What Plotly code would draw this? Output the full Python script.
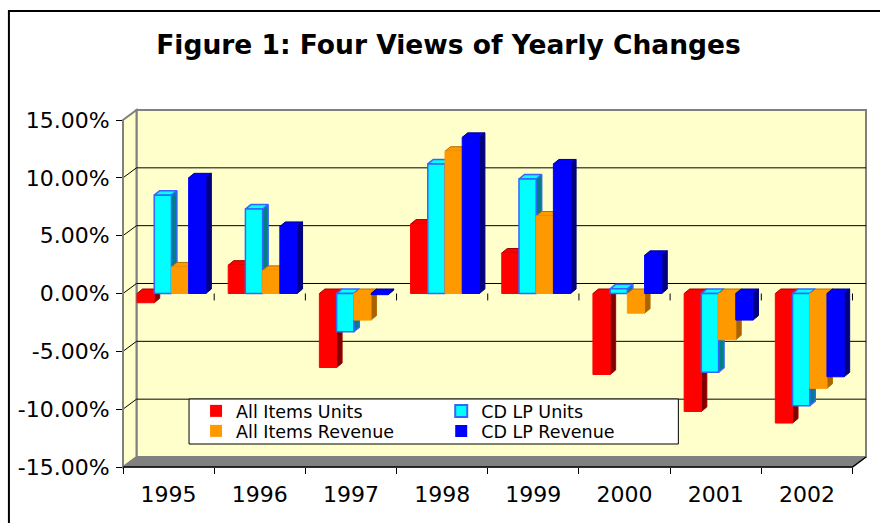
import plotly.graph_objects as go

# ---------------- data ----------------
years = ["1995", "1996", "1997", "1998", "1999", "2000", "2001", "2002"]
all_items_units = [-0.8, 2.45, -6.4, 6.0, 3.5, -7.0, -10.2, -11.2]
cd_lp_units = [8.5, 7.3, -3.3, 11.2, 9.9, 0.4, -6.8, -9.7]
all_items_revenue = [2.3, 2.0, -2.3, 12.3, 6.7, -1.7, -4.0, -8.2]
cd_lp_revenue = [10.0, 5.8, -0.1, 13.5, 11.2, 3.3, -2.3, -7.2]
series_names = ["All Items Units", "CD LP Units", "All Items Revenue", "CD LP Revenue"]
y_tick_vals = [-15, -10, -5, 0, 5, 10, 15]
y_tick_text = ["-15.00%", "-10.00%", "-5.00%", "0.00%", "5.00%", "10.00%", "15.00%"]
title_text = "Figure 1: Four Views of Yearly Changes"

series_values = [all_items_units, cd_lp_units, all_items_revenue, cd_lp_revenue]

# ---------------- geometry (pixels -> data units) ----------------
W, H = 880, 523
PX_LEFT, PX_BOTTOM = 123, 467
CAT_PX = 91.125              # pixels per category
PCT_PX = 347 / 30.0          # pixels per percent
DXW = 13.5 / CAT_PX          # wall depth, x
DYW = 10.0 / PCT_PX          # wall depth, y
XMIN, XMAX = 0.0, 8 + DXW
YMIN, YMAX = -15.0, 15 + DYW
PLOT_W = (XMAX - XMIN) * CAT_PX
PLOT_H = (YMAX - YMIN) * PCT_PX
M_L = PX_LEFT
M_B = H - PX_BOTTOM
M_R = W - PX_LEFT - PLOT_W
M_T = PX_BOTTOM - PLOT_H

BAR_W = 17.2 / CAT_PX
BAR_OFF = 14.0 / CAT_PX
DXB = 5.5 / CAT_PX
DYB = 4.5 / PCT_PX

styles = [
    dict(front="#FF0000", side="#800000", top="#FF0000", fl="#FF0000", ol="#A00000", lw=1),
    dict(front="#00FFFF", side="#008080", top="#00FFFF", fl="#3366FF", ol="#3366FF", lw=1.5),
    dict(front="#FF9900", side="#A86400", top="#FF9900", fl="#FF9900", ol="#B86E00", lw=1),
    dict(front="#0000FF", side="#000080", top="#0000FF", fl="#0000FF", ol="#000080", lw=1),
]
# legend entry placement: (text start px, row centre px)
legend_pos = [(236, 411), (481, 411), (236, 431), (481, 431)]


def px(x):
    return (x - XMIN) / (XMAX - XMIN)


def py(y):
    return (y - YMIN) / (YMAX - YMIN)


def ppx(p):  # pixel -> paper x
    return (p - M_L) / PLOT_W


def ppy(p):  # pixel -> paper y
    return (PX_BOTTOM - p) / PLOT_H


def poly_path(pts):
    return "M " + " L ".join(f"{px(a):.5f},{py(b):.5f}" for a, b in pts) + " Z"


def line_path(pts):
    return "M " + " L ".join(f"{px(a):.5f},{py(b):.5f}" for a, b in pts)


fig = go.Figure()

# ---------------- 3D bars as filled polygons ----------------
for j, vals in enumerate(series_values):
    st = styles[j]
    fx, fy, sx, sy, tx, ty = [], [], [], [], [], []
    for i, v in enumerate(vals):
        L = i + BAR_OFF + j * BAR_W
        R = L + BAR_W
        y0, y1 = min(0, v), max(0, v)
        fx += [L, R, R, L, L, None]
        fy += [y0, y0, y1, y1, y0, None]
        sx += [R, R + DXB, R + DXB, R, R, None]
        sy += [y0, y0 + DYB, y1 + DYB, y1, y0, None]
        tx += [L, R, R + DXB, L + DXB, L, None]
        ty += [y1, y1, y1 + DYB, y1 + DYB, y1, None]
    for xs, ys, col, lc in [(sx, sy, st["side"], st["ol"]),
                            (tx, ty, st["top"], st["ol"]),
                            (fx, fy, st["front"], st["fl"])]:
        fig.add_trace(go.Scatter(
            x=xs, y=ys, mode="lines", fill="toself", fillcolor=col,
            line=dict(color=lc, width=st["lw"]), hoverinfo="skip",
            showlegend=False, connectgaps=False))

# ---------------- legend entries (one legend per entry) ----------------
legend_names = ["legend", "legend2", "legend3", "legend4"]
for j, name in enumerate(series_names):
    st = styles[j]
    fig.add_trace(go.Bar(
        x=[None], y=[None], name=name,
        marker=dict(color=st["front"],
                    line=dict(color=st["fl"] if j == 1 else st["front"], width=2 if j == 1 else 0)),
        legend=legend_names[j], hoverinfo="skip"))

# ---------------- walls, floor, grid ----------------
shapes = []
gray = "#808080"
wall = "#FFFFCC"
shapes.append(dict(type="path", xref="paper", yref="paper", layer="below",
                   path=poly_path([(DXW, -15 + DYW), (XMAX, -15 + DYW), (XMAX, YMAX), (DXW, YMAX)]),
                   fillcolor=wall, line=dict(color=gray, width=2)))
shapes.append(dict(type="path", xref="paper", yref="paper", layer="below",
                   path=poly_path([(0, -15), (DXW, -15 + DYW), (DXW, YMAX), (0, 15)]),
                   fillcolor=wall, line=dict(color=gray, width=2)))
for v in [-10, -5, 0, 5, 10]:
    shapes.append(dict(type="path", xref="paper", yref="paper", layer="below",
                       path=line_path([(0, v), (DXW, v + DYW), (XMAX, v + DYW)]),
                       line=dict(color="black", width=1)))
shapes.append(dict(type="path", xref="paper", yref="paper", layer="below",
                   path=poly_path([(0, -15), (8, -15), (XMAX, -15 + DYW), (DXW, -15 + DYW)]),
                   fillcolor=gray, line=dict(color=gray, width=1)))
shapes.append(dict(type="path", xref="paper", yref="paper", layer="above",
                   path=line_path([(0, -15), (0, 15)]), line=dict(color=gray, width=2)))
shapes.append(dict(type="path", xref="paper", yref="paper", layer="above",
                   path=line_path([(0, -15), (8, -15), (XMAX, -15 + DYW)]),
                   line=dict(color="black", width=1.5)))
for k in range(1, 9):
    shapes.append(dict(type="path", xref="paper", yref="paper", layer="above",
                       path=line_path([(k, 0), (k, -0.6)]), line=dict(color="black", width=1)))
# legend box
shapes.append(dict(type="rect", xref="paper", yref="paper", layer="above",
                   x0=ppx(189), x1=ppx(678), y0=ppy(444), y1=ppy(399),
                   fillcolor="white", line=dict(color="black", width=1)))
# outer chart border
shapes.append(dict(type="rect", xref="paper", yref="paper", layer="above",
                   x0=ppx(9), x1=ppx(W + 10), y0=ppy(H + 10), y1=ppy(11),
                   fillcolor="rgba(0,0,0,0)", line=dict(color="black", width=2)))

FONT = "DejaVu Sans"
legend_layout = {}
for j, lname in enumerate(legend_names):
    tx_px, ty_px = legend_pos[j]
    legend_layout[lname] = dict(
        x=ppx(tx_px - 40), y=ppy(ty_px), xanchor="left", yanchor="middle",
        bgcolor="rgba(0,0,0,0)", borderwidth=0,
        font=dict(family=FONT, size=17.5, color="black"), tracegroupgap=0)

fig.update_layout(
    width=W, height=H,
    margin=dict(l=M_L, r=M_R, t=M_T, b=M_B, pad=0),
    paper_bgcolor="white", plot_bgcolor="white",
    shapes=shapes,
    title=dict(text=f"<b>{title_text}</b>", x=448.5 / W, xanchor="center",
               y=1 - 45 / H, yanchor="middle", yref="container",
               font=dict(family=FONT, size=26.5, color="black")),
    xaxis=dict(type="linear", range=[XMIN, XMAX], tickmode="array",
               tickvals=[i + 0.5 for i in range(len(years))], ticktext=years,
               ticks="outside", ticklen=8, tickcolor="rgba(0,0,0,0)",
               showgrid=False, zeroline=False, showline=False, fixedrange=True,
               tickfont=dict(family=FONT, size=22, color="black"),
               minor=dict(tickmode="array", tickvals=list(range(9)), ticks="outside",
                          ticklen=6, tickcolor="black", tickwidth=1, showgrid=False)),
    yaxis=dict(range=[YMIN, YMAX], tickmode="array", tickvals=y_tick_vals, ticktext=y_tick_text,
               ticks="outside", ticklen=6, tickcolor="black", tickwidth=1,
               ticklabelstandoff=2,
               showgrid=False, zeroline=False, showline=False, fixedrange=True,
               tickfont=dict(family=FONT, size=22, color="black")),
    showlegend=True,
    **legend_layout,
)

fig.write_html("out.html", config={"displayModeBar": False},
               post_script="document.body.style.margin='0px';")
